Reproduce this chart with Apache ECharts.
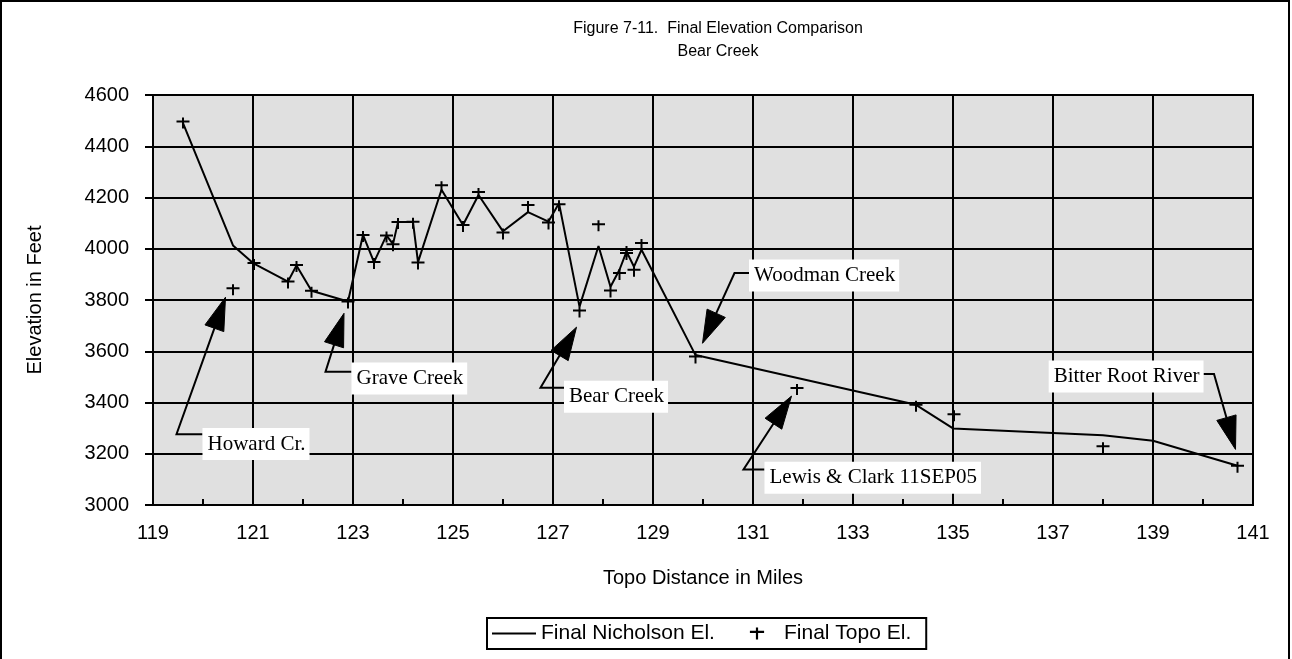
<!DOCTYPE html>
<html>
<head>
<meta charset="utf-8">
<script src="https://cdn.jsdelivr.net/npm/echarts@6/dist/echarts.min.js"></script>
<style>
  html, body { margin: 0; padding: 0; background: #fff; }
  #chart { width: 1292px; height: 659px; }
</style>
</head>
<body>
<div id="chart"></div>
<script>
// ---- Data ----
const xStart = 119;           // first x tick (miles)
const xEnd = 141;             // last x tick (miles)
const yMinFt = 3000;
const yMaxFt = 4600;

// Final Nicholson El. (line)
const nicholsonMiles = [119.6, 120.6, 121.0, 121.7, 121.87, 122.17, 122.9, 123.2, 123.42, 123.67, 123.8, 123.9, 124.2, 124.3, 124.77, 125.2, 125.51, 126.0, 126.5, 126.91, 127.12, 127.53, 127.91, 128.15, 128.33, 128.47, 128.62, 128.77, 129.85, 134.26, 135.0, 138.0, 139.0, 140.69];
const nicholsonElev  = [4490, 4013, 3944, 3872, 3935, 3836, 3794, 4054, 3948, 4052, 4018, 4104, 4104, 3948, 4230, 4093, 4210, 4068, 4143, 4106, 4178, 3774, 4011, 3852, 3918, 3989, 3930, 3996, 3585, 3391, 3299, 3272, 3251, 3153];

// Final Topo El. (crosses)
const topoMiles = [119.6, 120.6, 121.02, 121.7, 121.87, 122.17, 122.9, 123.2, 123.42, 123.67, 123.8, 123.9, 124.2, 124.3, 124.77, 125.2, 125.51, 126.0, 126.5, 126.91, 127.12, 127.53, 127.91, 128.15, 128.33, 128.47, 128.47, 128.62, 128.77, 129.85, 131.88, 134.26, 135.02, 138.0, 140.69];
const topoElev  = [4497, 3846, 3944, 3872, 3937, 3836, 3794, 4054, 3948, 4052, 4018, 4104, 4105, 3946, 4248, 4093, 4221, 4063, 4171, 4102, 4174, 3759, 4096, 3837, 3905, 3995, 3983, 3918, 4022, 3580, 3457, 3391, 3354, 3229, 3153];

// Callouts: text, which box side the leader leaves from, leader start, elbow, arrow tip, box centre elevation
const noteTexts  = ['Howard Cr.', 'Grave Creek', 'Bear Creek', 'Woodman Creek', 'Lewis & Clark 11SEP05', 'Bitter Root River'];
const noteSides  = ['left', 'left', 'left', 'left', 'left', 'right'];
const noteStart  = [[119.99, 3276], [122.97, 3520], [127.22, 3458], [130.92, 3905], [131.23, 3139], [140.01, 3511]];
const noteElbow  = [[119.47, 3276], [122.45, 3520], [126.75, 3458], [130.63, 3905], [130.81, 3139], [140.22, 3511]];
const noteTip    = [[120.45, 3811], [122.82, 3748], [127.47, 3694], [129.99, 3631], [131.77, 3425], [140.65, 3217]];
const noteBoxFt  = [3238, 3494, 3422, 3896, 3106, 3501];

const titleText = 'Figure 7-11.  Final Elevation Comparison\nBear Creek';
const xName = 'Topo Distance in Miles';
const yName = 'Elevation in Feet';
const lineName = 'Final Nicholson El.';
const topoName = 'Final Topo El.';

// ---- Build options ----
const toX = m => m - xStart;   // axis counts from 0 so ticks land on 119,121,...
const lineData = nicholsonMiles.map((m, i) => [toX(m), nicholsonElev[i]]);
const topoData = topoMiles.map((m, i) => [toX(m), topoElev[i]]);
const noteData = noteTexts.map((t, i) => [
  toX(noteStart[i][0]), noteStart[i][1],
  toX(noteElbow[i][0]), noteElbow[i][1],
  toX(noteTip[i][0]), noteTip[i][1],
  noteBoxFt[i]
]);

const crossPath = 'path://M0,3H13V5H0Z M5.5,0H7.5V11H5.5Z';
const linePath = 'path://M0,0H44V2H0Z';
const SANS = 'Liberation Sans';
const SERIF = 'Liberation Serif';

const chart = echarts.init(document.getElementById('chart'), null, { renderer: 'canvas' });

chart.setOption({
  animation: false,
  backgroundColor: '#fff',
  title: {
    text: titleText,
    left: 713,
    textAlign: 'center',
    top: 12,
    textStyle: { fontFamily: SANS, fontSize: 16, fontWeight: 'normal', color: '#000', lineHeight: 23 }
  },
  graphic: [{
    type: 'rect',
    shape: { x: 1, y: 1, width: 1288, height: 720 },
    style: { fill: 'none', stroke: '#000', lineWidth: 2 },
    silent: true
  }],
  legend: {
    left: 487,
    top: 618,
    orient: 'horizontal',
    padding: [5, 15, 5, 5],
    itemGap: 35,
    itemWidth: 44,
    itemHeight: 12,
    borderColor: '#000',
    borderWidth: 2,
    backgroundColor: '#fff',
    symbolKeepAspect: true,
    textStyle: { fontFamily: SANS, fontSize: 21, color: '#000' },
    data: [
      { name: lineName, icon: linePath, itemStyle: { color: '#000' } },
      { name: topoName, icon: crossPath, itemStyle: { color: '#000' } }
    ]
  },
  grid: {
    left: 153, top: 95, width: 1100, height: 410,
    show: true,
    backgroundColor: '#e0e0e0',
    borderColor: '#000',
    borderWidth: 2,
    containLabel: false
  },
  xAxis: {
    type: 'value',
    min: 0,
    max: xEnd - xStart,
    interval: 2,
    name: xName,
    nameLocation: 'middle',
    nameGap: 63,
    nameTextStyle: { fontFamily: SANS, fontSize: 20, color: '#000' },
    axisLine: { show: true, onZero: false, lineStyle: { color: '#000', width: 2 } },
    axisTick: { show: true, inside: true, length: 6, lineStyle: { color: '#000', width: 2 } },
    minorTick: { show: true, splitNumber: 2, length: 6, lineStyle: { color: '#000', width: 2 } },
    axisLabel: {
      fontFamily: SANS, fontSize: 20, color: '#000', margin: 18,
      formatter: v => String(v + xStart)
    },
    splitLine: { show: true, lineStyle: { color: '#000', width: 2 } }
  },
  yAxis: {
    type: 'value',
    min: yMinFt,
    max: yMaxFt,
    interval: 200,
    name: yName,
    nameLocation: 'middle',
    nameRotate: 90,
    nameGap: 108,
    nameTextStyle: { fontFamily: SANS, fontSize: 20, color: '#000' },
    axisLine: { show: true, onZero: false, lineStyle: { color: '#000', width: 2 } },
    axisTick: { show: true, inside: false, length: 8, lineStyle: { color: '#000', width: 2 } },
    axisLabel: { fontFamily: SANS, fontSize: 20, color: '#000', margin: 24, formatter: v => String(v) },
    splitLine: { show: true, lineStyle: { color: '#000', width: 2 } }
  },
  series: [
    {
      name: lineName,
      type: 'line',
      data: lineData,
      symbol: 'none',
      showSymbol: false,
      lineStyle: { color: '#000', width: 2 },
      itemStyle: { color: '#000' },
      z: 3
    },
    {
      name: topoName,
      type: 'scatter',
      data: topoData,
      symbol: crossPath,
      symbolSize: [13, 11],
      symbolOffset: [0, 1.5],
      itemStyle: { color: '#000', opacity: 1 },
      z: 4
    },
    {
      name: 'notes',
      type: 'custom',
      data: noteData,
      z: 5,
      silent: true,
      renderItem: function (params, api) {
        const i = params.dataIndex;
        const s = api.coord([api.value(0), api.value(1)]);
        const e = api.coord([api.value(2), api.value(3)]);
        const t = api.coord([api.value(4), api.value(5)]);
        const by = api.coord([api.value(0), api.value(6)])[1];
        const dx = t[0] - e[0], dy = t[1] - e[1];
        const len = Math.sqrt(dx * dx + dy * dy);
        const ux = dx / len, uy = dy / len;
        const L = 33, W = 20;
        const bx = t[0] - ux * L, byy = t[1] - uy * L;
        const nx = -uy, ny = ux;
        return {
          type: 'group',
          children: [
            {
              type: 'polyline',
              shape: { points: [s, e, [bx + ux * 2, byy + uy * 2]] },
              style: { stroke: '#000', lineWidth: 2, fill: 'none' }
            },
            {
              type: 'polygon',
              shape: { points: [t, [bx + nx * W / 2, byy + ny * W / 2], [bx - nx * W / 2, byy - ny * W / 2]] },
              style: { fill: '#000', stroke: '#000', lineWidth: 1 }
            },
            {
              type: 'text',
              x: s[0],
              y: by,
              style: {
                text: noteTexts[i],
                fontFamily: SERIF,
                fontSize: 21,
                fill: '#000',
                align: noteSides[i] === 'left' ? 'left' : 'right',
                verticalAlign: 'middle',
                backgroundColor: '#fff',
                padding: [4, 4, 4, 5],
                lineHeight: 24
              }
            }
          ]
        };
      }
    }
  ]
});
</script>
</body>
</html>
